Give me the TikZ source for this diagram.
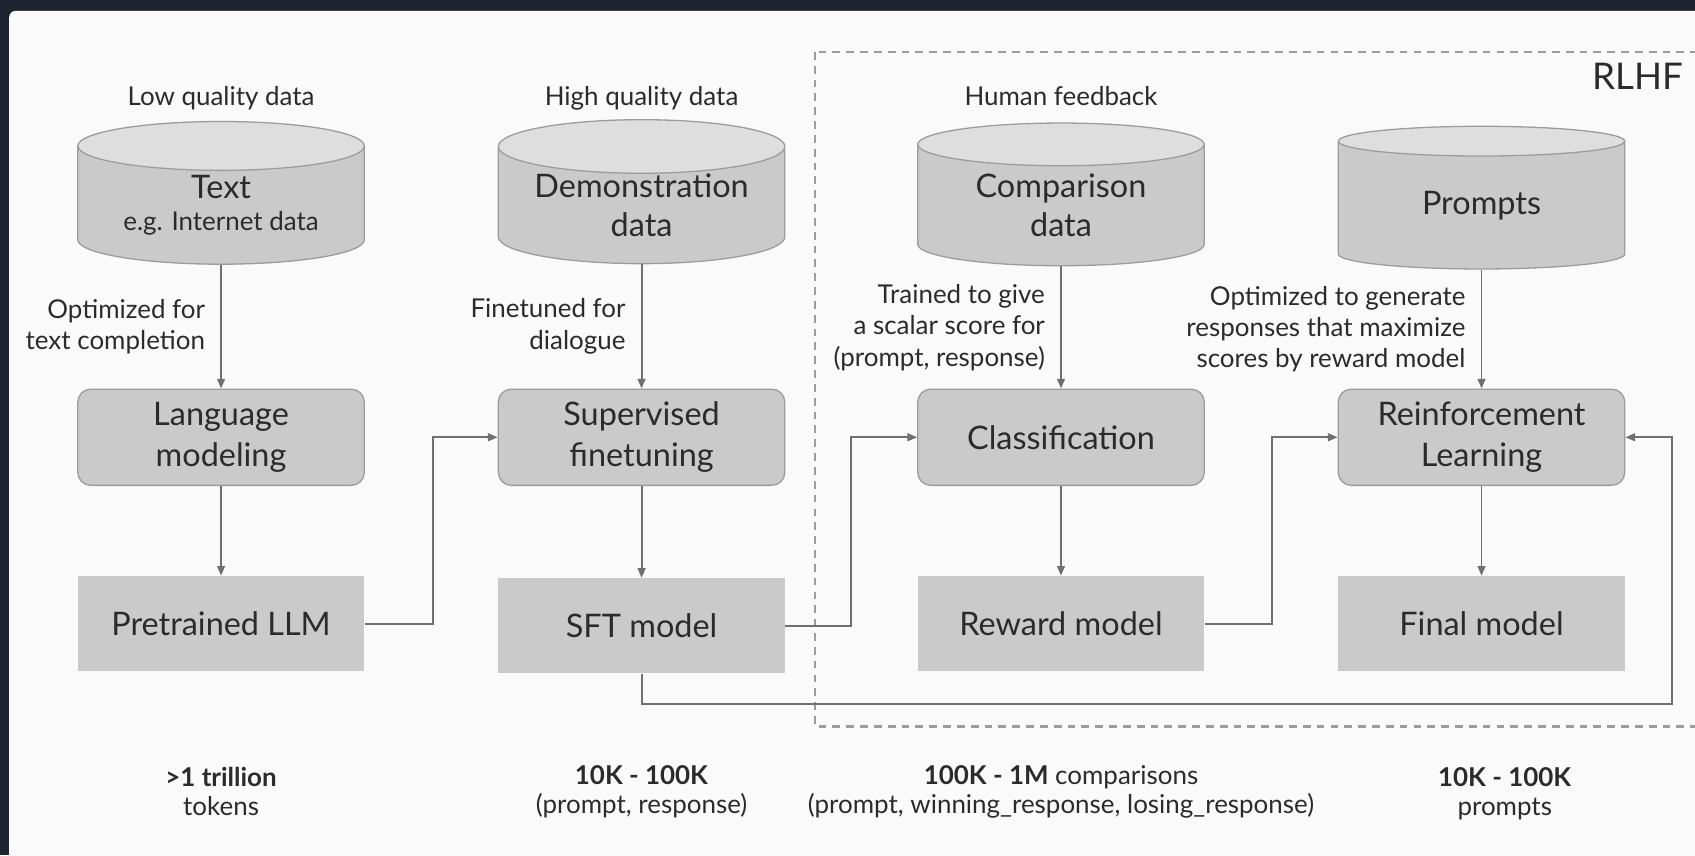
\documentclass[tikz,border=0pt]{standalone}
\usepackage{fontspec}
\setmainfont{Lato}
\usetikzlibrary{shapes.geometric,arrows.meta,positioning}

\definecolor{frame}{HTML}{1F2430}
\definecolor{panel}{HTML}{FAFAFA}
\definecolor{boxfill}{HTML}{CACACA}
\definecolor{capfill}{HTML}{DEDEDE}
\definecolor{boxline}{HTML}{9C9C9C}
\definecolor{wire}{HTML}{707070}
\definecolor{ink}{HTML}{2B2B2B}

\tikzset{
  db/.style={cylinder, shape border rotate=90, aspect=0.25, draw=boxline, line width=0.6pt,
    cylinder uses custom fill, cylinder body fill=boxfill, cylinder end fill=capfill,
    minimum width=132.5pt, minimum height=66pt, inner sep=0pt, align=center, text=ink,
    font=\fontsize{15}{18}\selectfont},
  stage/.style={rectangle, rounded corners=6pt, draw=boxline, line width=0.6pt, fill=boxfill,
    minimum width=132.5pt, minimum height=44.5pt, align=center, text=ink,
    font=\fontsize{15}{19}\selectfont},
  model/.style={rectangle, fill=boxfill, minimum width=132.5pt, minimum height=44pt,
    align=center, text=ink, font=\fontsize{15}{18}\selectfont},
  note/.style={align=right, text=ink, inner sep=2pt, font=\fontsize{12}{14.5}\selectfont},
  head/.style={text=ink, text depth=0pt, text height=9pt, font=\fontsize{12}{14.5}\selectfont},
  size/.style={align=center, text=ink, font=\fontsize{12}{13.5}\selectfont},
  link/.style={draw=wire, line width=0.9pt, -{Triangle[length=4.5pt,width=3.6pt]}},
  rlhf/.style={draw=boxline, line width=1.2pt, dash pattern=on 3.6pt off 2.8pt},
}

\begin{document}
\begin{tikzpicture}[x=0.5pt, y=-0.5pt]
\useasboundingbox (0,0) rectangle (1568,791);
% background
\fill[frame] (0,0) rectangle (1568,791);
\fill[panel, rounded corners=3pt] (8.5,10) rectangle (1620,840);

% RLHF region
\draw[rlhf] (754,48) rectangle (1620,672);
\node[text=ink, font=\fontsize{17}{20}\selectfont, anchor=base east] (tag) at (1564,83) {RLHF};

% data stores
\node[db] (text) at (204.5,190) {Text\\[-3pt]{\fontsize{12}{14}\selectfont e.g. Internet data}};
\node[db] (demo) at (593.5,190) {Demonstration\\data};
\node[db] (comp) at (981.5,190) {Comparison\\data};
\node[db] (prom) at (1370.5,190) {Prompts};

\node[head] (lowq) at (204.5,89) {Low quality data};
\node[head] (highq) at (593.5,89) {High quality data};
\node[head] (human) at (981.5,89) {Human feedback};

% training stages
\node[stage] (lm) at (204.5,404.5) {Language\\modeling};
\node[stage] (sft) at (593.5,404.5) {Supervised\\finetuning};
\node[stage] (cls) at (981.5,404.5) {Classification};
\node[stage] (rl) at (1370.5,404.5) {Reinforcement\\Learning};

% resulting models
\node[model] (llm) at (204.5,577) {Pretrained LLM};
\node[model] (sftm) at (593.5,579) {SFT model};
\node[model] (rm) at (981.5,577) {Reward model};
\node[model] (final) at (1370.5,577) {Final model};

% vertical flow
\draw[link] (text) -- node[note, left=5pt] {Optimized for\\text completion} (lm);
\draw[link] (demo) -- node[note, left=5pt] {Finetuned for\\dialogue} (sft);
\draw[link] (comp) -- node[note, left=5pt] {Trained to give\\a scalar score for\\(prompt, response)} (cls);
\draw[link] (prom) -- node[note, left=5pt] {Optimized to generate\\responses that maximize\\scores by reward model} (rl);
\draw[link] (lm) -- (llm);
\draw[link] (sft) -- (sftm);
\draw[link] (cls) -- (rm);
\draw[link] (rl) -- (final);

% hand-over between columns
\draw[link] (llm.east) -- ++(63,0) |- (sft.west);
\draw[link] (sftm.east) -- ++(61,0) |- (cls.west);
\draw[link] (rm.east) -- ++(62,0) |- (rl.west);
\coordinate (loop) at (1547,651);
\draw[link] (sftm.south) |- (loop) |- (rl.east);

% data sizes
\node[size] (n1) at (204.5,732.5) {\textbf{>1 trillion}\\tokens};
\node[size] (n2) at (593.5,732.5) {\textbf{10K - 100K}\\(prompt, response)};
\node[size] (n3) at (981.5,732.5) {\textbf{100K - 1M} comparisons\\(prompt, winning\_response, losing\_response)};
\node[size] (n4) at (1392,734.5) {\textbf{10K - 100K}\\prompts};
\end{tikzpicture}
\end{document}
